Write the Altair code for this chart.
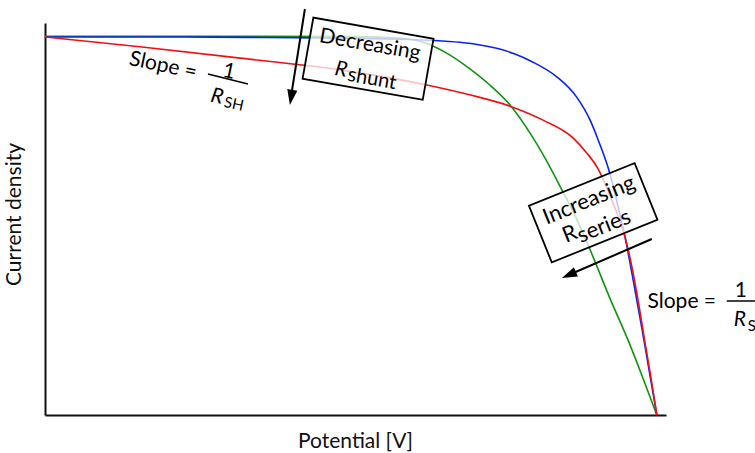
import altair as alt
import pandas as pd

# --- J-V curves (normalised: potential / Voc, current density / Jsc) ---
series_names = ["Ideal", "Low R_shunt", "High R_series"]
series_colors = ["#0a22f0", "#f01010", "#0f9410"]

ideal_v = [0.000, 0.172, 0.335, 0.498, 0.580, 0.634, 0.678, 0.711, 0.743, 0.768, 0.797,
           0.837, 0.869, 0.891, 0.904, 0.923, 0.936, 0.948, 0.959, 0.969, 0.979, 0.989, 1.000]
ideal_j = [1.000, 1.000, 0.999, 0.997, 0.994, 0.991, 0.986, 0.979, 0.968, 0.955, 0.934,
           0.894, 0.841, 0.780, 0.728, 0.640, 0.556, 0.471, 0.378, 0.288, 0.198, 0.103, 0.000]

shunt_v = [0.000, 0.155, 0.319, 0.482, 0.624, 0.694, 0.760, 0.814, 0.863, 0.884,
           0.904, 0.923, 0.936, 0.948, 0.961, 0.971, 0.980, 0.990, 1.000]
shunt_j = [1.000, 0.974, 0.944, 0.913, 0.873, 0.847, 0.817, 0.780, 0.733, 0.696,
           0.651, 0.582, 0.529, 0.471, 0.378, 0.288, 0.198, 0.103, 0.000]

series_v = [0.000, 0.172, 0.335, 0.498, 0.580, 0.613, 0.634, 0.662, 0.690, 0.727,
            0.760, 0.797, 0.828, 0.845, 0.866, 0.891, 0.923, 0.953, 0.976, 1.000]
series_j = [1.002, 1.002, 1.002, 1.001, 0.997, 0.989, 0.976, 0.952, 0.921, 0.873,
            0.820, 0.735, 0.648, 0.595, 0.529, 0.437, 0.310, 0.198, 0.103, 0.000]

rows = []
for name, vs, js in [("High R_series", series_v, series_j),
                     ("Ideal", ideal_v, ideal_j),
                     ("Low R_shunt", shunt_v, shunt_j)]:
    for i, (v, j) in enumerate(zip(vs, js)):
        rows.append({"series": name, "v": v, "j": j, "idx": i})
curves = pd.DataFrame(rows)

# --- annotation anchors (data units) ---
box_x = [0.528, 0.896]
box_y = [0.9425, 0.535]
box_angle = [10, -22]

plain_text = ["Decreasing", "shunt", "Increasing", "R", "series", "Slope =", "1", "SH",
              "Slope =", "1", "S"]
plain_x = [0.531, 0.5343, 0.889, 0.8578, 0.9134, 0.1928, 0.3007, 0.3088, 1.0408, 1.1373, 1.1552]
plain_y = [0.9788, 0.8889, 0.5688, 0.4788, 0.500, 0.9233, 0.9074, 0.8228, 0.2989, 0.328, 0.2354]
plain_angle = [10, 10, -22, -22, -22, 12, 12, 12, 0, 0, 0]
plain_size = [21, 20, 22, 22, 22, 21, 21, 15, 21, 21, 15]

italic_text = ["R", "R", "R"]
italic_x = [0.484, 0.281, 1.1356]
italic_y = [0.9127, 0.8413, 0.2513]
italic_angle = [10, 12, 0]
italic_size = [21, 21, 21]

# fraction bars and arrow shafts
seg_x = [0.2663, 1.1144, 0.4248, 0.9918]
seg_y = [0.9021, 0.3016, 1.0741, 0.4656]
seg_x2 = [0.3317, 1.168, 0.4020, 0.8578]
seg_y2 = [0.8757, 0.3016, 0.8413, 0.3717]
seg_w = [1.4, 1.4, 2, 2]

head_x = [0.4003, 0.8448]
head_y = [0.8201, 0.3624]
head_angle = [9, 66.6]

FONT = "Lato"
xs = alt.Scale(domain=[0, 1.015], nice=False, zero=False)
ys = alt.Scale(domain=[0, 1.037], nice=False, zero=False)
x_axis = alt.Axis(title="Potential [V]", ticks=False, labels=False, grid=False,
                  domainColor="#111111", domainWidth=2, titleFont=FONT, titleFontSize=21,
                  titleFontWeight="normal", titleColor="#111111",
                  titleBaseline="alphabetic", titleX=310, titleY=32)
y_axis = alt.Axis(title="Current density", ticks=False, labels=False, grid=False,
                  domainColor="#111111", domainWidth=2, titleFont=FONT, titleFontSize=21,
                  titleFontWeight="normal", titleColor="#111111",
                  titleBaseline="alphabetic", titleX=-25, titleY=191, titleAngle=-90)


def X(f):
    return alt.X(f, type="quantitative", scale=xs, axis=x_axis)


def Y(f):
    return alt.Y(f, type="quantitative", scale=ys, axis=y_axis)


lines = alt.Chart(curves).mark_line(strokeWidth=1.6, interpolate="monotone").encode(
    x=X("v"), y=Y("j"),
    color=alt.Color("series:N", scale=alt.Scale(domain=series_names, range=series_colors),
                    legend=None),
    order="idx:Q",
)

boxes = []
paths = ["M-1,-0.508L1,-0.508L1,0.508L-1,0.508Z", "M-1,-0.535L1,-0.535L1,0.535L-1,0.535Z"]
box_sizes = [122 * 122, 114 * 114]
for k in range(2):
    bdf = pd.DataFrame({"x": [box_x[k]], "y": [box_y[k]], "angle": [box_angle[k]]})
    boxes.append(
        alt.Chart(bdf).mark_point(shape=paths[k], size=box_sizes[k], filled=True, fill="white",
                                  fillOpacity=0.75, stroke="black", strokeWidth=1.8,
                                  opacity=1).encode(
            x=X("x"), y=Y("y"), angle=alt.Angle("angle:Q", scale=None))
    )

pt = pd.DataFrame({"t": plain_text, "x": plain_x, "y": plain_y, "angle": plain_angle,
                   "size": plain_size})
plain = alt.Chart(pt).mark_text(font=FONT, color="black", align="center",
                                baseline="middle").encode(
    x=X("x"), y=Y("y"), text="t:N",
    angle=alt.Angle("angle:Q", scale=None), size=alt.Size("size:Q", scale=None))

it = pd.DataFrame({"t": italic_text, "x": italic_x, "y": italic_y, "angle": italic_angle,
                   "size": italic_size})
italic = alt.Chart(it).mark_text(font=FONT, fontStyle="italic", color="black",
                                 align="center", baseline="middle").encode(
    x=X("x"), y=Y("y"), text="t:N",
    angle=alt.Angle("angle:Q", scale=None), size=alt.Size("size:Q", scale=None))

sg = pd.DataFrame({"x": seg_x, "y": seg_y, "x2": seg_x2, "y2": seg_y2, "w": seg_w})
segs = alt.Chart(sg).mark_rule(color="black").encode(
    x=X("x"), y=Y("y"), x2="x2:Q", y2="y2:Q",
    strokeWidth=alt.StrokeWidth("w:Q", scale=None))

hd = pd.DataFrame({"x": head_x, "y": head_y, "angle": head_angle})
heads = alt.Chart(hd).mark_point(shape="M0,0L-0.6,-1.8L0.6,-1.8Z", size=289, filled=True,
                                 color="black", opacity=1).encode(
    x=X("x"), y=Y("y"), angle=alt.Angle("angle:Q", scale=None))

chart = alt.layer(lines, *boxes, plain, italic, segs, heads).properties(
    width=621, height=392,
    autosize=alt.AutoSizeParams(type="none"),
    padding={"left": 45, "top": 23, "right": 89, "bottom": 38},
    background="white",
).configure_view(stroke=None)

chart.save("out.html", embed_options={"renderer": "svg", "actions": False})
